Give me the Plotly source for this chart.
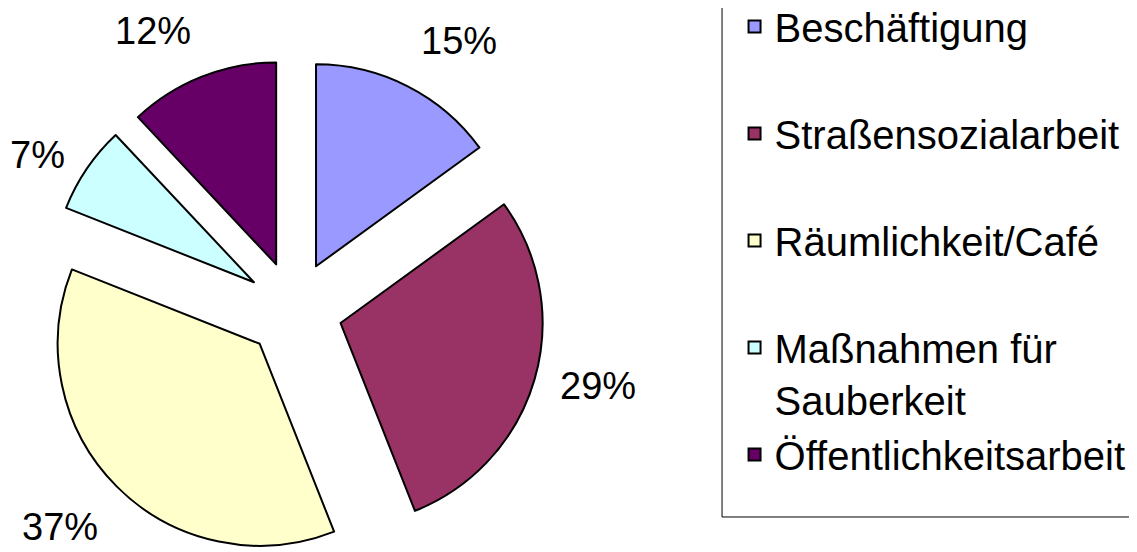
import math
import plotly.graph_objects as go

categories = ["Beschäftigung", "Straßensozialarbeit", "Räumlichkeit/Café",
              "Maßnahmen für Sauberkeit", "Öffentlichkeitsarbeit"]
legend_labels = ["Beschäftigung<br> ", "Straßensozialarbeit<br> ", "Räumlichkeit/Café<br> ",
                 "Maßnahmen für<br>Sauberkeit", "Öffentlichkeitsarbeit<br> "]
values = [15, 29, 37, 7, 12]
colors = ["#9999FF", "#993366", "#FFFFCC", "#CCFFFF", "#660066"]

FONT = "Liberation Sans, Arial, sans-serif"
W, H = 1137, 552
DOM_X = [0.0229, 0.4802]
DOM_Y = [0.0, 0.9076]
LABEL_DIST = 275  # px from pie centre to the near edge of each percentage label

fig = go.Figure(go.Pie(
    labels=legend_labels,
    values=values,
    sort=False,
    direction="clockwise",
    rotation=0,
    pull=[0.24] * len(values),
    marker=dict(colors=colors, line=dict(color="black", width=2)),
    textinfo="none",
    domain=dict(x=DOM_X, y=DOM_Y),
    hoverinfo="label+percent",
))

# percentage labels placed outside each slice at its mid-angle (derived from the data)
total = sum(values)
cx = (DOM_X[0] + DOM_X[1]) / 2
cy = (DOM_Y[0] + DOM_Y[1]) / 2
cum = 0
annotations = []
for v in values:
    mid = (cum + v / 2) / total * 2 * math.pi
    cum += v
    s, c = math.sin(mid), math.cos(mid)
    xa = "left" if s > 0.05 else ("right" if s < -0.05 else "center")
    ya = "middle" if abs(c) < 0.6 else ("bottom" if c > 0 else "top")
    annotations.append(dict(
        x=cx + LABEL_DIST * s / W,
        y=cy + LABEL_DIST * c / H,
        xref="paper", yref="paper", showarrow=False,
        text=f"{round(v / total * 100)}%",
        font=dict(family=FONT, size=38, color="black"),
        xanchor=xa, yanchor=ya,
    ))

fig.update_layout(
    width=W, height=H,
    margin=dict(l=0, r=0, t=0, b=0, autoexpand=False),
    paper_bgcolor="white",
    plot_bgcolor="white",
    font=dict(family=FONT, size=40, color="black"),
    showlegend=True,
    legend=dict(
        x=0.639, xanchor="left", y=0.038, yanchor="bottom",
        valign="top",
        bgcolor="rgba(0,0,0,0)",
        borderwidth=0,
        font=dict(family=FONT, size=40, color="black"),
    ),
    annotations=annotations,
    shapes=[dict(type="rect", xref="paper", yref="paper",
                 x0=0.628, x1=1.02, y0=0.0779, y1=1.05,
                 line=dict(color="black", width=1), fillcolor="rgba(0,0,0,0)",
                 layer="below")],
)

fig.write_html("out.html")
